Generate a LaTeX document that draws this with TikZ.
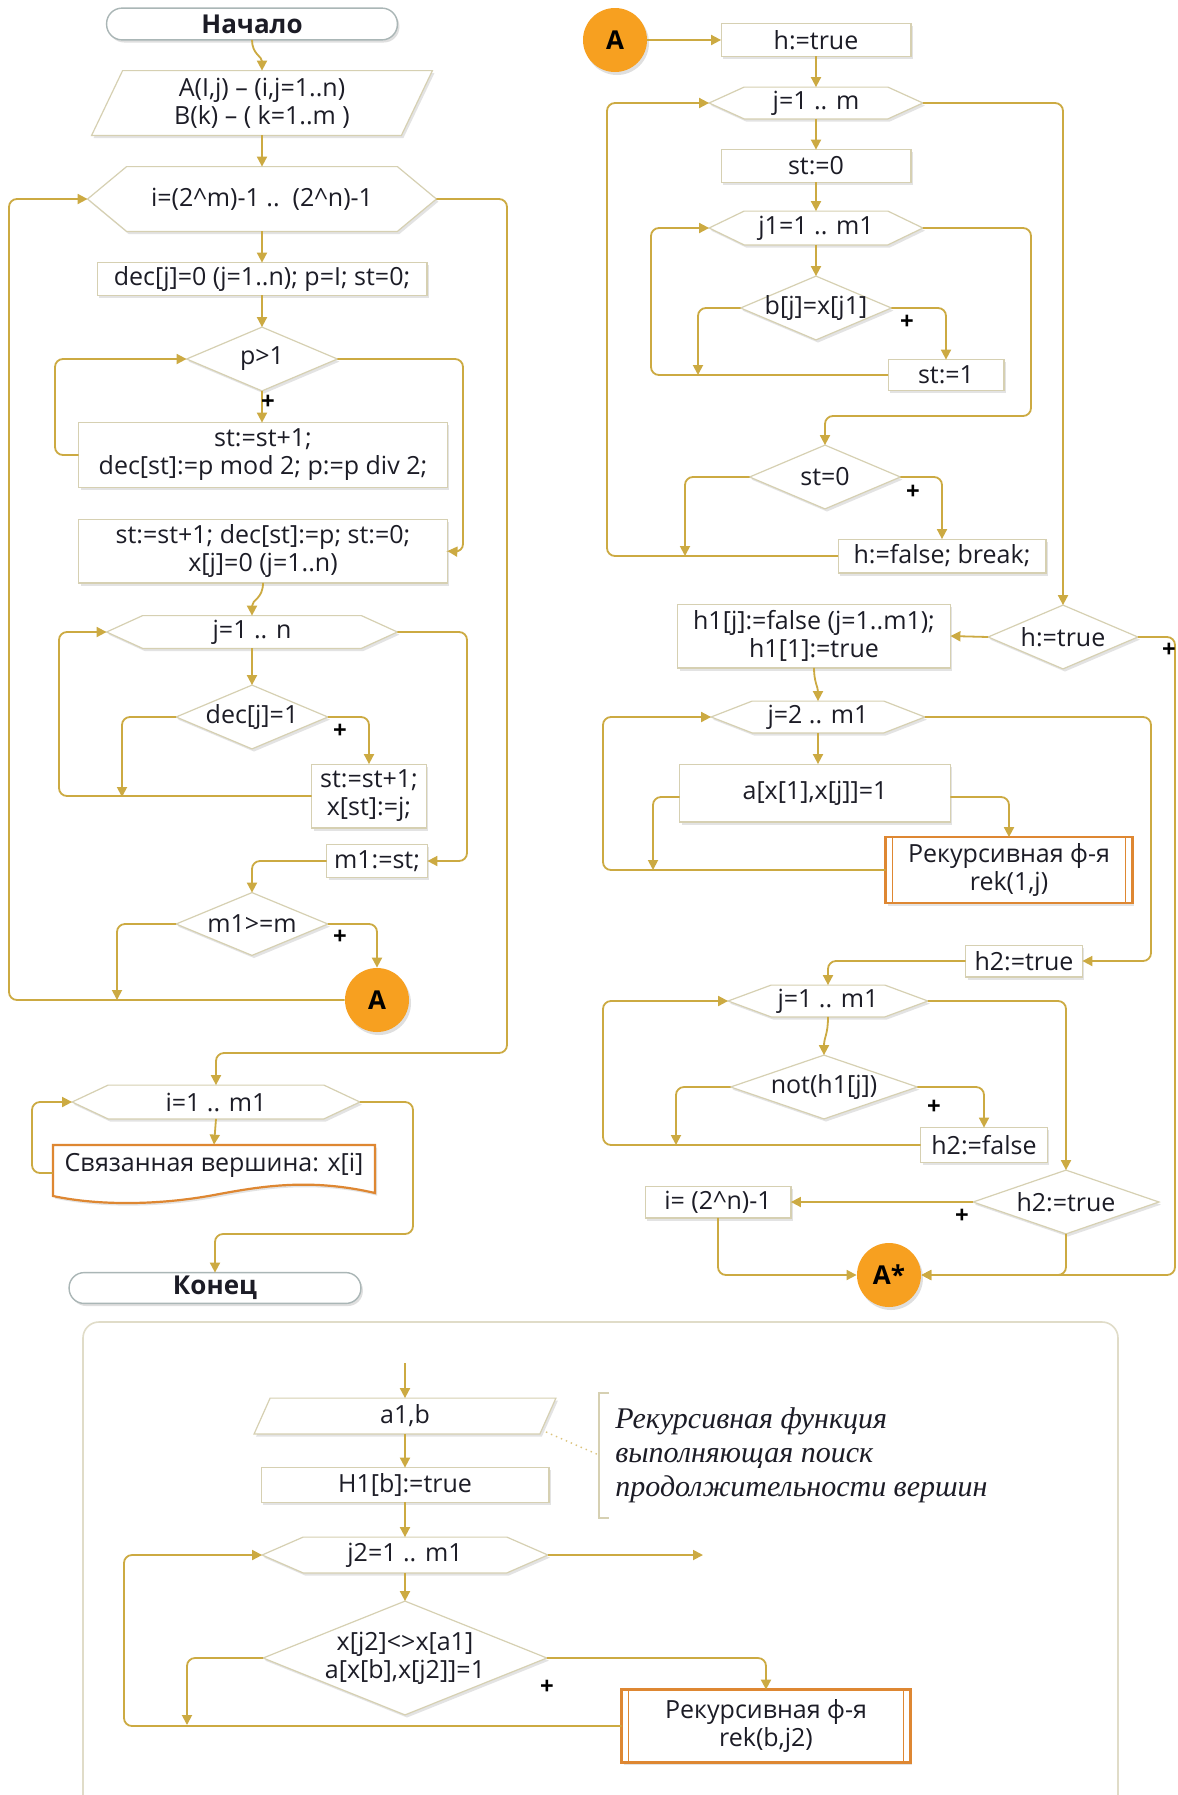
\documentclass[tikz,border=0pt]{standalone}
\usepackage{fontspec}
\setmainfont{Open Sans}
\newfontfamily\cmtfont{Liberation Serif}
\usetikzlibrary{arrows.meta,shadows}
\definecolor{gold}{RGB}{204,170,66}
\definecolor{bord}{RGB}{214,208,178}
\definecolor{orng}{RGB}{247,160,32}
\definecolor{orbd}{RGB}{222,135,50}
\definecolor{termb}{RGB}{170,182,182}
\definecolor{frm}{RGB}{224,220,200}
\definecolor{ink}{RGB}{28,28,38}
\pgfdeclarelayer{frame}
\pgfdeclarelayer{shapes}
\pgfsetlayers{frame,shapes,main}
\newcommand\mainsz{\fontsize{12.5}{14}\selectfont}
\tikzset{
  bw/.style={minimum width=#1*0.5pt},
  bh/.style={minimum height=#1*0.5pt},
  txt/.style={shape=rectangle, inner sep=0pt, align=center, font=\mainsz, text=ink},
  shp/.style={draw=bord, fill=white, line width=0.6pt,
    drop shadow={shadow xshift=1pt, shadow yshift=-1.3pt, opacity=0.22}},
  termst/.style={draw=termb, fill=white, line width=0.7pt,
    drop shadow={shadow xshift=1pt, shadow yshift=-1.3pt, opacity=0.25}},
  rekst/.style={draw=orbd, fill=white, line width=1.3pt,
    drop shadow={shadow xshift=1pt, shadow yshift=-1.3pt, opacity=0.22}},
  arr/.style={draw=gold, line width=0.9pt, rounded corners=4pt,
    -{Triangle[length=5pt,width=5pt]}},
  plus/.style={inner sep=0pt, font=\bfseries\fontsize{12}{12}\selectfont, text=black},
  circ/.style={circle, fill=orng, minimum size=32pt, inner sep=0pt,
    font=\bfseries\fontsize{13}{13}\selectfont, text=black,
    drop shadow={shadow xshift=1pt, shadow yshift=-1.5pt, opacity=0.25}},
  cmt/.style={inner sep=0pt, align=left, text=ink,
    font=\cmtfont\itshape\fontsize{15}{17}\selectfont},
}
% name, x, y, w, h, text
\newcommand\mkbox[6]{%
  \node[txt,bw=#4,bh=#5] (#1) at (#2,#3) {#6};
  \begin{pgfonlayer}{shapes}
  \draw[shp] (#1.south west) rectangle (#1.north east);
  \end{pgfonlayer}}
\newcommand\mkdiam[6]{%
  \node[txt,bw=#4,bh=#5] (#1) at (#2,#3) {#6};
  \begin{pgfonlayer}{shapes}
  \draw[shp] (#1.west) -- (#1.north) -- (#1.east) -- (#1.south) -- cycle;
  \end{pgfonlayer}}
% name, x, y, w, h, chamfer, text
\newcommand\mkhex[7]{%
  \node[txt,bw=#4,bh=#5] (#1) at (#2,#3) {#7};
  \begin{pgfonlayer}{shapes}
  \draw[shp] (#1.west) -- ([xshift=#6*0.5pt]#1.north west) -- ([xshift=-#6*0.5pt]#1.north east)
    -- (#1.east) -- ([xshift=-#6*0.5pt]#1.south east) -- ([xshift=#6*0.5pt]#1.south west) -- cycle;
  \end{pgfonlayer}}
\newcommand\mkpara[7]{%
  \node[txt,bw=#4,bh=#5] (#1) at (#2,#3) {#7};
  \begin{pgfonlayer}{shapes}
  \draw[shp] (#1.south west) -- ([xshift=#6*0.5pt]#1.north west) -- (#1.north east)
    -- ([xshift=-#6*0.5pt]#1.south east) -- cycle;
  \end{pgfonlayer}}
\newcommand\mkterm[6]{%
  \node[txt,bw=#4,bh=#5,font=\bfseries\fontsize{13}{13}\selectfont] (#1) at (#2,#3) {#6};
  \begin{pgfonlayer}{shapes}
  \draw[termst, rounded corners=#5*0.25pt] (#1.south west) rectangle (#1.north east);
  \end{pgfonlayer}}
\newcommand\mkrek[6]{%
  \node[txt,bw=#4,bh=#5] (#1) at (#2,#3) {#6};
  \begin{pgfonlayer}{shapes}
  \draw[rekst] (#1.south west) rectangle (#1.north east);
  \draw[draw=orbd, line width=0.8pt] ([xshift=3.5pt]#1.south west) -- ([xshift=3.5pt]#1.north west);
  \draw[draw=orbd, line width=0.8pt] ([xshift=-3.5pt]#1.south east) -- ([xshift=-3.5pt]#1.north east);
  \end{pgfonlayer}}

\begin{document}
\begin{tikzpicture}[x=0.5pt,y=-0.5pt]
\useasboundingbox (0,0) rectangle (1178,1795);
\begin{pgfonlayer}{frame}
  \fill[white] (0,0) rectangle (1178,1795);
  \draw[draw=frm, line width=0.8pt, rounded corners=8pt] (83,1805) -- (83,1322) -- (1118,1322) -- (1118,1805);
\end{pgfonlayer}

% ---------------- left column ----------------
\mkterm{start}{252}{24}{290}{31}{Начало}
\mkpara{inp}{262}{103}{340}{64}{31}{A(I,j) – (i,j=1..n)\\B(k) – ( k=1..m )}
\mkhex{hexA}{262}{199}{348}{64}{39}{i=(2\textasciicircum m)-1 ..\ \ (2\textasciicircum n)-1}
\mkbox{dec}{262}{279}{329}{32}{dec[j]=0 (j=1..n); p=I; st=0;}
\mkdiam{dp}{262}{359}{150}{63}{p>1}
\mkbox{bA}{263}{455}{368}{64}{st:=st+1;\\dec[st]:=p mod 2; p:=p div 2;}
\mkbox{bB}{263}{551}{368}{63}{st:=st+1; dec[st]:=p; st:=0;\\x[j]=0 (j=1..n)}
\mkhex{hexB}{252}{632}{290}{32}{36}{j=1 .. n}
\mkdiam{dd}{252}{717}{151}{63}{dec[j]=1}
\mkbox{bC}{369}{796}{114}{63}{st:=st+1;\\x[st]:=j;}
\mkbox{bm}{377}{861}{100}{32}{m1:=st;}
\mkdiam{dm}{252}{924}{151}{62}{m1>=m}
\node[circ] (cA) at (377,1000) {A};
\mkhex{hexC}{216}{1102}{287}{33}{36}{i=1 .. m1}
\node[txt,bw=322,bh=40] (doc) at (214,1165) {Связанная вершина: x[i]};
\begin{pgfonlayer}{shapes}
\draw[rekst, line width=1.1pt] (53,1145) -- (375,1145) -- (375,1193)
  .. controls (310,1178) and (262,1186) .. (214,1195)
  .. controls (160,1205) and (100,1206) .. (53,1196) -- cycle;
\end{pgfonlayer}
\mkterm{fin}{215}{1288}{291}{30}{Конец}

\draw[arr] (start.south) .. controls +(0,14) and +(0,-14) .. (inp.north);
\draw[arr] (inp.south) -- (hexA.north);
\draw[arr] (hexA.south) -- (dec.north);
\draw[arr] (dec.south) -- (dp.north);
\draw[arr] (dp.south) -- (dp.south|-bA.north);
\node[plus] (pl1) at (268,402) {+};
\draw[arr] (bA.west) -- (55,455) |- (dp.west);
\draw[arr] (dp.east) -| (463,552) -- (bB.east);
\draw[arr] (bB.south) .. controls +(0,16) and +(0,-16) .. (hexB.north);
\draw[arr] (hexB.south) -- (dd.north);
\coordinate (jd) at (122,797);
\draw[arr] (dd.west) -| (jd);
\draw[arr] (dd.east) -| (bC.north);
\node[plus] (pl2) at (340,731) {+};
\draw[arr] (bC.west) -| (59,632) -- (hexB.west);
\draw[arr] (hexB.east) -| (467,861) -- (bm.east);
\draw[arr] (bm.west) -| (dm.north);
\coordinate (jm) at (117,1000);
\draw[arr] (dm.west) -| (jm);
\draw[arr] (dm.east) -| (cA.north);
\node[plus] (pl3) at (340,937) {+};
\draw[arr] (cA.west) -| (9,199) -- (hexA.west);
\draw[arr] (hexA.east) -| (507,1053) -| (hexC.north);
\draw[arr] (hexC.south) -- (doc.north);
\draw[arr] ([yshift=-4pt]doc.west) -| (32,1102) -- (hexC.west);
\draw[arr] (hexC.east) -| (413,1234) -| (fin.north);

% ---------------- right column ----------------
\node[circ] (cA2) at (615,40) {A};
\mkbox{h}{816}{40}{189}{32}{h:=true}
\mkhex{hj}{816}{103}{213}{31}{35}{j=1 .. m}
\mkbox{s0}{816}{166}{189}{32}{st:=0}
\mkhex{hj1}{816}{228}{213}{33}{35}{j1=1 .. m1}
\mkdiam{db}{816}{308}{150}{63}{b[j]=x[j1]}
\mkbox{s1}{946}{375}{115}{30}{st:=1}
\mkdiam{ds}{825}{477}{150}{63}{st=0}
\mkbox{hf}{942}{556}{207}{33}{h:=false; break;}
\mkdiam{dh}{1063}{637}{149}{63}{h:=true}
\mkbox{h1}{814}{636}{272}{63}{h1[j]:=false (j=1..m1);\\h1[1]:=true}
\mkhex{hj2}{818}{717}{213}{31}{41}{j=2 .. m1}
\mkbox{ax}{815}{793}{270}{57}{a[x[1],x[j]]=1}
\mkrek{rk1}{1009}{870}{246}{65}{Рекурсивная ф-я\\rek(1,j)}
\mkbox{h2t}{1024}{961}{116}{31}{h2:=true}
\mkhex{hj3}{828}{1001}{199}{31}{43}{j=1 .. m1}
\mkdiam{dn}{824}{1087}{186}{63}{not(h1[j])}
\mkbox{h2f}{984}{1145}{126}{34}{h2:=false}
\mkdiam{dh2}{1066}{1202}{185}{63}{h2:=true}
\mkbox{ib}{718}{1202}{145}{31}{i= (2\textasciicircum n)-1}
\node[circ] (cAs) at (889,1275) {A*};

\draw[arr] (cA2.east) -- (h.west);
\draw[arr] (h.south) -- (hj.north);
\draw[arr] (hj.south) -- (s0.north);
\draw[arr] (s0.south) -- (hj1.north);
\draw[arr] (hj1.south) -- (db.north);
\coordinate (jb) at (698,375);
\draw[arr] (db.west) -| (jb);
\draw[arr] (db.east) -| (s1.north);
\node[plus] (pl4) at (907,322) {+};
\draw[arr] (s1.west) -| (651,228) -- (hj1.west);
\draw[arr] (hj1.east) -| (1031,416) -| (ds.north);
\coordinate (js) at (685,556);
\draw[arr] (ds.west) -| (js);
\draw[arr] (ds.east) -| (hf.north);
\node[plus] (pl5) at (913,492) {+};
\draw[arr] (hf.west) -| (607,103) -- (hj.west);
\draw[arr] (hj.east) -| (dh.north);
\draw[arr] (dh.west) -- (h1.east);
\draw[arr] (dh.east) -| (1175,1275) -- (cAs.east);
\node[plus] (pl6) at (1169,650) {+};
\draw[arr] (h1.south) .. controls +(0,14) and +(0,-14) .. (hj2.north);
\draw[arr] (hj2.south) -- (hj2.south|-ax.north);
\coordinate (ja) at (653,870);
\draw[arr] ([yshift=-2pt]ax.west) -| (ja);
\draw[arr] ([yshift=-2pt]ax.east) -| (rk1.north);
\draw[arr] (rk1.west) -| (603,717) -- (hj2.west);
\draw[arr] (hj2.east) -| (1151,961) -- (h2t.east);
\draw[arr] (h2t.west) -| (hj3.north);
\draw[arr] (hj3.south) .. controls +(0,18) and +(0,-18) .. (dn.north);
\coordinate (jn) at (676,1145);
\draw[arr] (dn.west) -| (jn);
\draw[arr] (dn.east) -| (h2f.north);
\node[plus] (pl7) at (934,1107) {+};
\draw[arr] (h2f.west) -| (603,1001) -- (hj3.west);
\draw[arr] (hj3.east) -| (dh2.north);
\draw[arr] (dh2.west) -- (ib.east);
\node[plus] (pl8) at (962,1216) {+};
\draw[arr] (ib.south) |- (cAs.west);
\draw[arr] (dh2.south) |- (cAs.east);

% ---------------- bottom: recursive function ----------------
\mkpara{ab}{405}{1416}{301}{35}{16}{a1,b}
\mkbox{H1}{405}{1485}{287}{34}{H1[b]:=true}
\mkhex{hk}{405}{1555}{285}{35}{41}{j2=1 .. m1}
\mkdiam{dx}{405}{1658}{283}{113}{x[j2]<>x[a1]\\a[x[b],x[j2]]=1}
\mkrek{rk2}{766}{1726}{288}{72}{Рекурсивная ф-я\\rek(b,j2)}
\node[cmt, anchor=west] (cm) at (615,1455) {Рекурсивная функция\\выполняющая поиск\\продолжительности вершин};
\draw[draw=bord, line width=0.8pt] (609,1393) -- (599,1393) -- (599,1518) -- (609,1518);
\coordinate (brk) at (599,1455);
\draw[draw=gold!70, dotted, line width=0.7pt] (546,1432) -- (brk);

\coordinate (ent) at (405,1363);
\draw[arr] (ent) -- (ab.north);
\draw[arr] (ab.south) -- (H1.north);
\draw[arr] (H1.south) -- (hk.north);
\draw[arr] (hk.south) -- (dx.north);
\coordinate (ext) at (703,1555);
\draw[arr] (hk.east) -- (ext);
\coordinate (jx) at (187,1725);
\draw[arr] (dx.west) -| (jx);
\draw[arr] (dx.east) -| (rk2.north);
\node[plus] (pl9) at (547,1687) {+};
\draw[arr] (rk2.west) -| (124,1555) -- (hk.west);
\end{tikzpicture}
\end{document}
